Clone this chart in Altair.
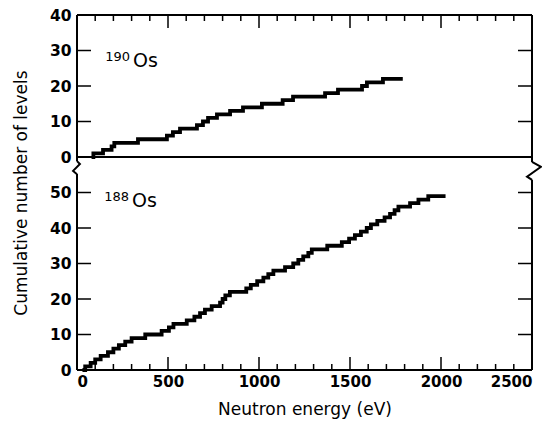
import altair as alt
import pandas as pd

# ---- data (energy in eV where the cumulative count reaches the value) ----
os190_energy = [80, 90, 143, 190, 205, 335, 494, 527, 566, 659, 692, 720, 769, 841, 912,
                1016, 1130, 1187, 1363, 1434, 1566, 1593, 1681, 1790]
os190_count = [0, 1, 2, 3, 4, 5, 6, 7, 8, 9, 10, 11, 12, 13, 14,
               15, 16, 17, 18, 19, 20, 21, 22, 22]

os188_energy = [30, 45, 75, 100, 130, 170, 200, 230, 265, 300, 375, 465, 505, 530, 603,
                645, 676, 703, 740, 786, 800, 815, 840, 930, 955, 990, 1024, 1051, 1079,
                1143, 1188, 1216, 1243, 1271, 1290, 1375, 1455, 1495, 1527, 1560, 1592,
                1615, 1650, 1690, 1720, 1745, 1766, 1830, 1876, 1930, 2025]
os188_count = [0, 1, 2, 3, 4, 5, 6, 7, 8, 9, 10, 11, 12, 13, 14,
               15, 16, 17, 18, 19, 20, 21, 22, 23, 24, 25, 26, 27, 28,
               29, 30, 31, 32, 33, 34, 35, 36, 37, 38, 39, 40,
               41, 42, 43, 44, 45, 46, 47, 48, 49, 49]

x_label_values = [0, 500, 1000, 1500, 2000, 2500]
x_minor_ticks = [v for v in range(100, 2500, 100) if v % 500 != 0]
x_major_ticks = [500, 1000, 1500, 2000]
lower_ticks = [0, 10, 20, 30, 40, 50]
upper_ticks = [0, 10, 20, 30, 40]
upper_offset = 60          # upper panel's zero sits at 60 on the shared vertical scale
y_top = 100
x_max = 2500

isotope_mass = ["190", "188"]
isotope_elem = ["Os", "Os"]
label_energy = [308, 302]
label_level = [85.4, 45.9]

# axis-break marks (left / right)
break_left = {"center": 57.0, "lo": 55.2, "hi": 58.8}
break_right = {"center": 56.1, "lo": 53.6, "hi": 58.6}

W, H = 455, 355
FONT = "DejaVu Sans"

# ---- tables ----
lines = pd.concat([
    pd.DataFrame({"energy": os190_energy, "count": os190_count, "iso": "190Os",
                  "pos": [c + upper_offset for c in os190_count]}),
    pd.DataFrame({"energy": os188_energy, "count": os188_count, "iso": "188Os",
                  "pos": os188_count}),
])

y_vals = lower_ticks + [t + upper_offset for t in upper_ticks]
inner_y = [v for v in y_vals if v not in (0, upper_offset, y_top)]

xs = alt.Scale(domain=[0, x_max], nice=False, zero=False)
ys = alt.Scale(domain=[0, y_top], nice=False, zero=False)

x_axis = alt.Axis(values=x_label_values, title="Neutron energy (eV)", format="d",
                  domain=False, ticks=False, grid=False,
                  labelFont=FONT, labelFontWeight="bold", labelFontSize=15,
                  labelColor="black", labelPadding=4,
                  titleFont=FONT, titleFontWeight="normal", titleFontSize=17,
                  titleColor="black", titlePadding=12)
y_axis = alt.Axis(values=y_vals, title="Cumulative number of levels",
                  labelExpr=f"datum.value >= {upper_offset} ? datum.value - {upper_offset} : datum.value",
                  domain=False, ticks=False, grid=False,
                  labelFont=FONT, labelFontWeight="bold", labelFontSize=15.5,
                  labelColor="black", labelPadding=6,
                  titleFont=FONT, titleFontWeight="normal", titleFontSize=17,
                  titleColor="black", titlePadding=19)


def X(field):
    return alt.X(field, scale=xs, axis=x_axis, title="Neutron energy (eV)")


def Y(field):
    return alt.Y(field, scale=ys, axis=y_axis, title="Cumulative number of levels")


base_line = alt.Chart(lines).mark_line(
    interpolate="step-after", color="black", strokeWidth=3.8, strokeJoin="miter"
).encode(x=X("energy:Q"), y=Y("pos:Q"), detail="iso:N")

# frame lines
hframe = pd.DataFrame({"x": [0, 0, 0], "x2": [x_max] * 3, "y": [0, upper_offset, y_top]})
vframe = pd.DataFrame({
    "x": [0, 0, x_max, x_max],
    "y": [0, break_left["hi"], 0, break_right["hi"]],
    "y2": [break_left["lo"], y_top, break_right["lo"], y_top],
})
h_rules = alt.Chart(hframe).mark_rule(color="black", strokeWidth=2).encode(
    x=X("x:Q"), x2="x2:Q", y=Y("y:Q"))
v_rules = alt.Chart(vframe).mark_rule(color="black", strokeWidth=2).encode(
    x=X("x:Q"), y=Y("y:Q"), y2="y2:Q")

# break zigzags
brk = pd.DataFrame({"x": [0, x_max], "y": [break_left["center"], break_right["center"]],
                    "side": ["L", "R"]})
zig_l = alt.Chart(brk[brk.side == "L"]).mark_point(
    shape="M0,-1 L0.45,-0.55 L-0.6,0.5 L0,1", size=169, filled=False,
    color="black", strokeWidth=2, opacity=1).encode(x=X("x:Q"), y=Y("y:Q"))
zig_r = alt.Chart(brk[brk.side == "R"]).mark_point(
    shape="M0,-1 L1,-0.45 L-0.55,0.65 L0,1", size=324, filled=False,
    color="black", strokeWidth=2, opacity=1).encode(x=X("x:Q"), y=Y("y:Q"))

# inward tick marks
minor_df = pd.DataFrame({"x": x_minor_ticks})
major_df = pd.DataFrame({"x": x_major_ticks})
ytick_df = pd.DataFrame({"y": inner_y})


def xticks(df, length):
    bottom = alt.Chart(df).mark_rule(color="black", strokeWidth=1.5).encode(
        x=X("x:Q"), y=alt.value(H), y2=alt.value(H - length))
    top = alt.Chart(df).mark_rule(color="black", strokeWidth=1.5).encode(
        x=X("x:Q"), y=alt.value(0), y2=alt.value(length))
    return [bottom, top]


yt_left = alt.Chart(ytick_df).mark_rule(color="black", strokeWidth=1.5).encode(
    y=Y("y:Q"), x=alt.value(0), x2=alt.value(14))
yt_right = alt.Chart(ytick_df).mark_rule(color="black", strokeWidth=1.5).encode(
    y=Y("y:Q"), x=alt.value(W), x2=alt.value(W - 14))

# isotope labels
lab = pd.DataFrame({"mass": isotope_mass, "elem": isotope_elem,
                    "x": label_energy, "y": label_level})
elem_text = alt.Chart(lab).mark_text(
    align="left", baseline="alphabetic", font=FONT, fontSize=19, color="black").encode(
    x=X("x:Q"), y=Y("y:Q"), text="elem:N")
mass_text = alt.Chart(lab).mark_text(
    align="right", baseline="alphabetic", font=FONT, fontSize=13, color="black",
    dx=-3, dy=-6).encode(
    x=X("x:Q"), y=Y("y:Q"), text="mass:N")

chart = alt.layer(
    base_line, h_rules, v_rules, zig_l, zig_r,
    *xticks(minor_df, 6), *xticks(major_df, 13), yt_left, yt_right,
    elem_text, mass_text,
).properties(
    width=W, height=H,
    autosize=alt.AutoSizeParams(type="none"),
    padding={"left": 69, "top": 7, "right": 10, "bottom": 50},
    background="white",
).configure_view(stroke=None)

chart.save("out.html", embed_options={"renderer": "svg", "actions": False})
